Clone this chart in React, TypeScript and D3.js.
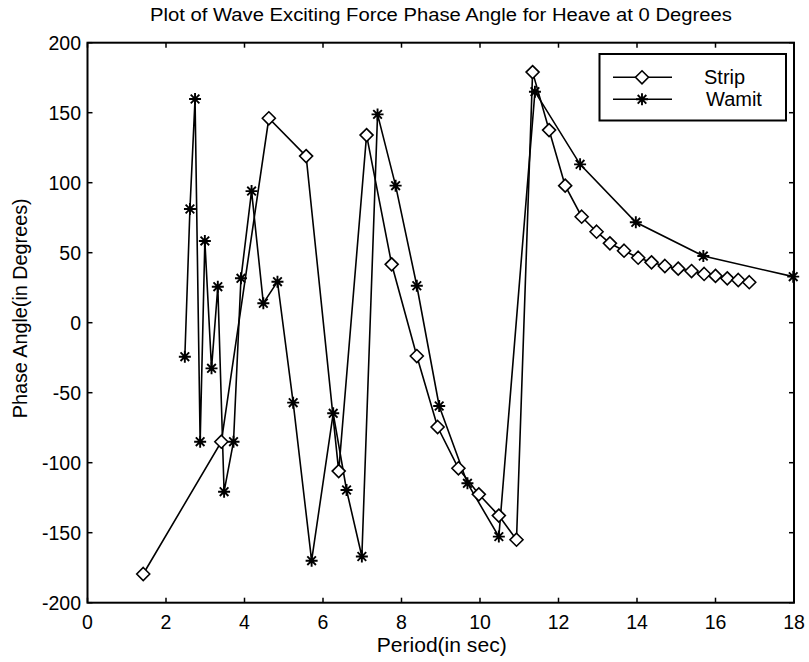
import React from "react";
import * as d3 from "d3";

const stripX = [1.42, 3.41, 4.62, 5.57, 6.40, 7.11, 7.75, 8.39, 8.92, 9.45, 9.97, 10.48, 10.93, 11.34, 11.76, 12.17, 12.59, 12.97, 13.31, 13.67, 14.03, 14.37, 14.71, 15.05, 15.39, 15.71, 16.0, 16.30, 16.58, 16.86];
const stripY = [-179.5, -85, 146, 119, -106, 134, 41.7, -23.8, -74.5, -104, -122.6, -137.8, -155, 179, 137.6, 97.9, 75.7, 65, 56.7, 51.4, 46.4, 43.1, 40.5, 38.6, 36.9, 34.8, 33.4, 31.7, 30.5, 28.9];

const wamitX = [2.48, 2.61, 2.74, 2.87, 2.99, 3.16, 3.32, 3.48, 3.72, 3.91, 4.18, 4.48, 4.84, 5.24, 5.71, 6.26, 6.60, 6.99, 7.39, 7.85, 8.39, 8.96, 9.68, 10.48, 11.40, 12.55, 13.97, 15.69, 17.98];
const wamitY = [-24.3, 81.2, 159.8, -85, 58.4, -32.6, 25.7, -120.7, -85, 31.7, 94, 13.9, 29.3, -57.1, -170, -64.7, -119.5, -167, 148.8, 97.9, 26.4, -59.5, -114.7, -152.8, 165, 113.1, 71.7, 47.6, 32.9];

const xTicks = [0, 2, 4, 6, 8, 10, 12, 14, 16, 18];
const yTicks = [-200, -150, -100, -50, 0, 50, 100, 150, 200];

const seriesNames = ["Strip", "Wamit"];

const W = 809;
const H = 662;
const L = 87.5, R = 794, T = 42.7, B = 602.7;
const FONT = "'Liberation Sans', Arial, sans-serif";

function Diamond({ x, y }: { x: number; y: number }) {
  const s = 6.5;
  return (
    <path
      d={`M${x},${y - s}L${x + s},${y}L${x},${y + s}L${x - s},${y}Z`}
      fill="white"
      stroke="black"
      strokeWidth={1.6}
    />
  );
}

function Star({ x, y }: { x: number; y: number }) {
  const s = 6;
  const d = s * 0.72;
  return (
    <path
      d={`M${x - s},${y}L${x + s},${y}M${x},${y - s}L${x},${y + s}M${x - d},${y - d}L${x + d},${y + d}M${x - d},${y + d}L${x + d},${y - d}`}
      stroke="black"
      strokeWidth={1.9}
      fill="none"
    />
  );
}

export default function App() {
  const x = d3.scaleLinear().domain([0, 18]).range([L, R]);
  const y = d3.scaleLinear().domain([-200, 200]).range([B, T]);
  const line = d3
    .line<[number, number]>()
    .x((d) => x(d[0]))
    .y((d) => y(d[1]));
  const strip: [number, number][] = stripX.map((v, i) => [v, stripY[i]]);
  const wamit: [number, number][] = wamitX.map((v, i) => [v, wamitY[i]]);
  const tl = 5;

  return (
    <svg
      width={W}
      height={H}
      style={{ position: "absolute", left: 0, top: 0, background: "white" }}
      fontFamily={FONT}
    >
      <rect x={0} y={0} width={W} height={H} fill="white" />
      {xTicks.map((t) => (
        <g key={"xt" + t}>
          <line x1={x(t)} x2={x(t)} y1={B} y2={B - tl} stroke="black" strokeWidth={1.5} />
          <line x1={x(t)} x2={x(t)} y1={T} y2={T + tl} stroke="black" strokeWidth={1.5} />
          <text x={x(t)} y={628.5} textAnchor="middle" fontSize={19.5}>
            {t}
          </text>
        </g>
      ))}
      {yTicks.map((t) => (
        <g key={"yt" + t}>
          <line x1={L} x2={L + tl} y1={y(t)} y2={y(t)} stroke="black" strokeWidth={1.5} />
          <line x1={R} x2={R - tl} y1={y(t)} y2={y(t)} stroke="black" strokeWidth={1.5} />
          <text x={81} y={y(t) + 7} textAnchor="end" fontSize={19.5}>
            {t}
          </text>
        </g>
      ))}
      <path d={line(strip) || ""} fill="none" stroke="black" strokeWidth={1.6} />
      <path d={line(wamit) || ""} fill="none" stroke="black" strokeWidth={1.6} />
      {strip.map((d, i) => (
        <Diamond key={"s" + i} x={x(d[0])} y={y(d[1])} />
      ))}
      {wamit.map((d, i) => (
        <Star key={"w" + i} x={x(d[0])} y={y(d[1])} />
      ))}
      <rect x={L} y={T} width={R - L} height={B - T} fill="none" stroke="black" strokeWidth={2} />
      <rect x={599.5} y={54} width={186.5} height={66.5} fill="white" stroke="black" strokeWidth={2} />
      <line x1={613} x2={672} y1={77.3} y2={77.3} stroke="black" strokeWidth={1.6} />
      <Diamond x={642} y={77.3} />
      <text x={704} y={84} fontSize={20}>
        {seriesNames[0]}
      </text>
      <line x1={613} x2={672} y1={99.3} y2={99.3} stroke="black" strokeWidth={1.6} />
      <Star x={642} y={99.3} />
      <text x={706} y={106} fontSize={20}>
        {seriesNames[1]}
      </text>
      <text
        x={441}
        y={21}
        textAnchor="middle"
        fontSize={17.5}
        textLength={582}
        lengthAdjust="spacingAndGlyphs"
      >
        Plot of Wave Exciting Force Phase Angle for Heave at 0 Degrees
      </text>
      <text
        x={441.7}
        y={652}
        textAnchor="middle"
        fontSize={19.5}
        textLength={130}
        lengthAdjust="spacingAndGlyphs"
      >
        Period(in sec)
      </text>
      <text
        transform={`translate(26.5,308.3) rotate(-90)`}
        textAnchor="middle"
        fontSize={19.5}
        textLength={220}
        lengthAdjust="spacingAndGlyphs"
      >
        Phase Angle(in Degrees)
      </text>
    </svg>
  );
}
